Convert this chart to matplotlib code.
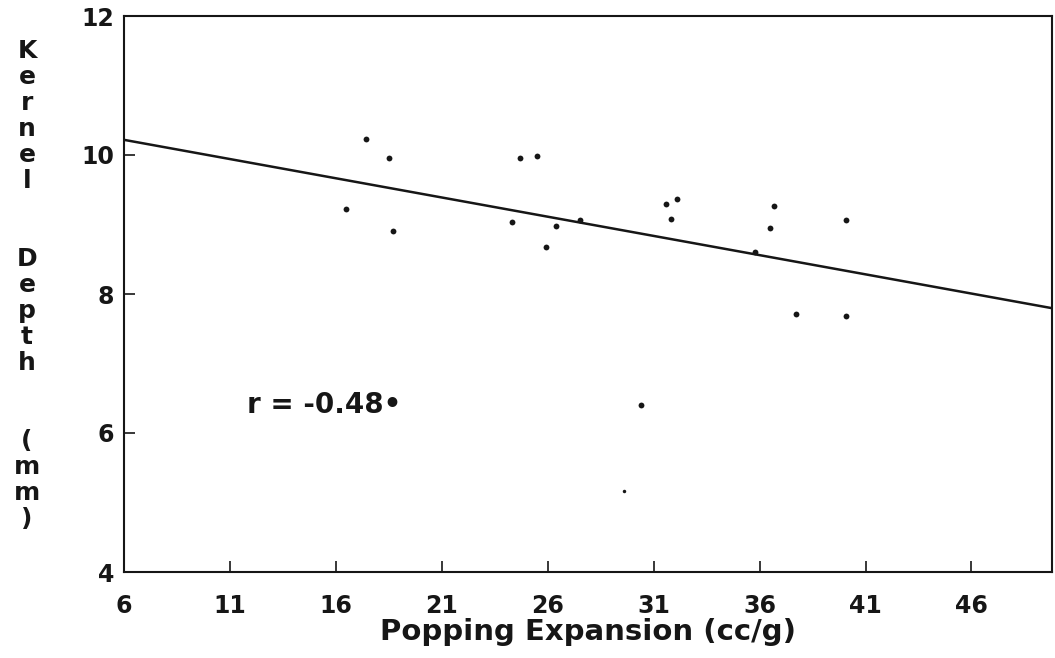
import numpy as np
import matplotlib
matplotlib.use("Agg")
import matplotlib.pyplot as plt

# popping expansion (cc/g) vs kernel depth (mm)
expansion = [17.4, 18.5, 16.5, 18.7, 24.7, 25.5, 24.3, 26.4, 25.9, 27.5,
             31.6, 32.1, 31.8, 36.7, 36.5, 40.1, 35.8, 37.7, 40.1, 30.4, 29.6]
depth = [10.23, 9.95, 9.22, 8.90, 9.95, 9.99, 9.03, 8.98, 8.67, 9.06,
         9.29, 9.36, 9.08, 9.27, 8.95, 9.07, 8.60, 7.71, 7.68, 6.41, 5.16]

# fitted regression line
slope = -0.0553
intercept = 10.55
r_text = "r = -0.48\u2022"

x_ticks = [6, 11, 16, 21, 26, 31, 36, 41, 46]
y_ticks = [4, 6, 8, 10, 12]
ylabel = "Kernel  Depth  (mm)"

ink = "#161616"
plt.rcParams["font.family"] = ["DejaVu Sans"]
plt.rcParams["font.weight"] = "bold"

fig = plt.figure(figsize=(10.55, 6.58), dpi=100)
ax = fig.add_axes([124 / 1055, 1 - 572 / 658, 928 / 1055, 556 / 658])

xs = np.array([6, 49.8])
ax.plot(xs, intercept + slope * xs, color=ink, lw=1.8, zorder=2)
ax.plot(expansion[:-1], depth[:-1], "o", color=ink, ms=4.2, mec="none", zorder=3)
ax.plot(expansion[-1:], depth[-1:], "o", color=ink, ms=2.5, mec="none", zorder=3)

ax.text(11.8, 6.41, r_text, fontsize=20, fontweight="bold", color=ink,
        va="center", ha="left")

ax.set_xlim(6, 49.8)
ax.set_ylim(4, 12)
ax.set_xticks(x_ticks)
ax.set_yticks(y_ticks)
ax.tick_params(axis="x", direction="in", length=8, width=1.2, pad=16,
               labelsize=17, colors=ink)
ax.tick_params(axis="y", direction="in", length=8, width=1.2, pad=7,
               labelsize=17, colors=ink)
for lab in ax.get_xticklabels() + ax.get_yticklabels():
    lab.set_fontweight("bold")
for s in ax.spines.values():
    s.set_linewidth(1.5)
    s.set_color(ink)

# vertical stacked y label, one letter per row
for i, ch in enumerate(ylabel):
    if ch == " ":
        continue
    fig.text(27 / 1055, 1 - (58 + 26 * i) / 658, ch, fontsize=18,
             fontweight="bold", color=ink, ha="center", va="baseline")

fig.text(588 / 1055, 1 - 640 / 658, "Popping Expansion (cc/g)", fontsize=21,
         fontweight="bold", color=ink, ha="center", va="baseline")

fig.savefig("out.png", dpi=100, facecolor="white")
